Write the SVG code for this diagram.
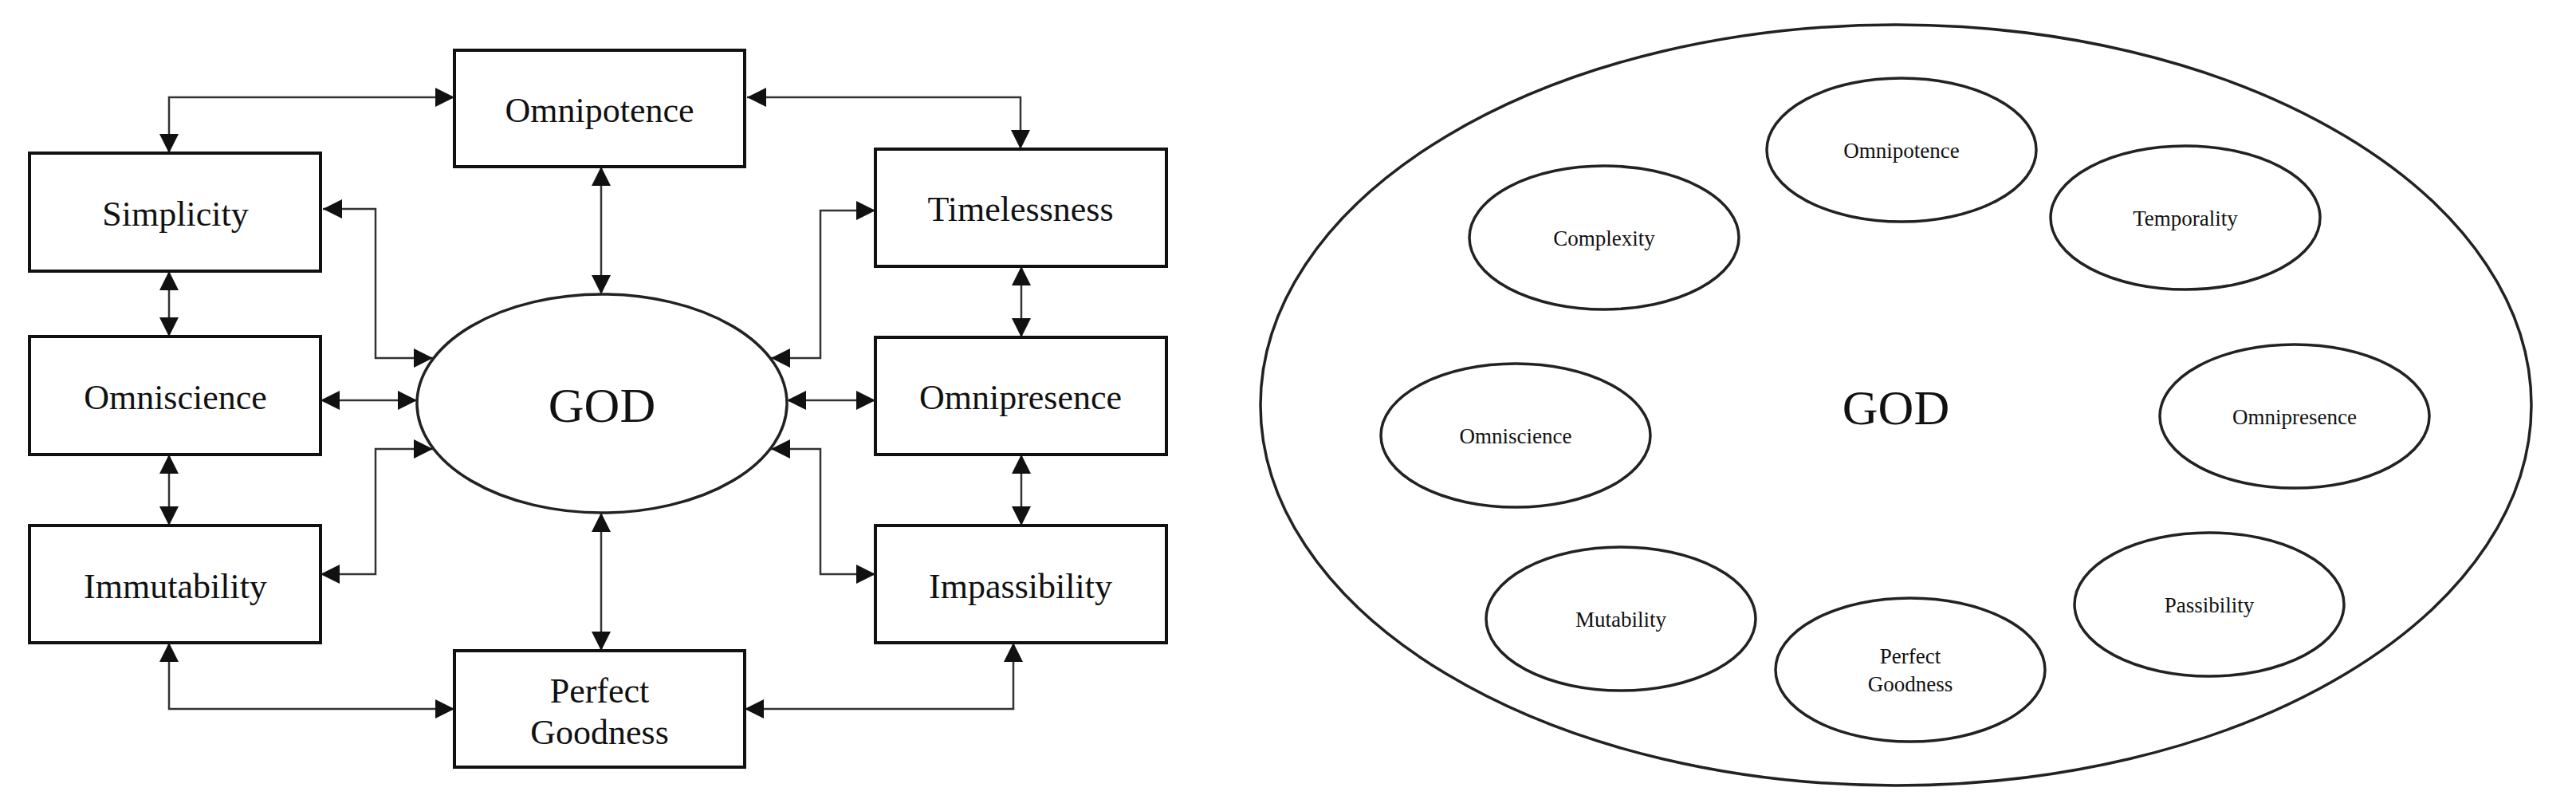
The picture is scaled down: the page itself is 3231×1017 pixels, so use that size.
<svg xmlns="http://www.w3.org/2000/svg" width="3231" height="1017" viewBox="0 0 3231 1017">
<style>
.box{fill:#fff;stroke:#111;stroke-width:4}
.el{fill:#fff;stroke:#222;stroke-width:3.5}
.t{font-family:"Liberation Serif",serif;font-size:44px;fill:#111;text-anchor:middle;dominant-baseline:central}
.s{font-family:"Liberation Serif",serif;font-size:27px;fill:#111;text-anchor:middle;dominant-baseline:central}
.g{font-family:"Liberation Serif",serif;font-size:62px;fill:#111;text-anchor:middle;dominant-baseline:central}
.c{fill:none;stroke:#333;stroke-width:2.5;marker-start:url(#a);marker-end:url(#a)}
</style>
<defs>
<marker id="a" viewBox="0 0 24 24" refX="24" refY="12" markerWidth="24" markerHeight="24" markerUnits="userSpaceOnUse" orient="auto-start-reverse">
<path d="M0,0 L24,12 L0,24 z" fill="#111"/>
</marker>
</defs>
<rect width="3231" height="1017" fill="#fff"/>
<g id="connectors">
<path class="c" d="M212,192 V122 H570"/>
<path class="c" d="M937,122 H1280 V187"/>
<path class="c" d="M754,209 V369"/>
<path class="c" d="M405,262 H471 V449 H543"/>
<path class="c" d="M402,502 H523"/>
<path class="c" d="M402,720 H471 V563 H543"/>
<path class="c" d="M1098,264 H1029 V449 H967"/>
<path class="c" d="M987,502 H1098"/>
<path class="c" d="M1098,720 H1029 V563 H967"/>
<path class="c" d="M754,643 V816"/>
<path class="c" d="M212,806 V889 H570"/>
<path class="c" d="M934,889 H1271 V806"/>
<path class="c" d="M212,340 V422"/>
<path class="c" d="M212,570 V659"/>
<path class="c" d="M1281,334 V423"/>
<path class="c" d="M1281,570 V659"/>
</g>
<g id="god"><ellipse class="el" cx="755" cy="506" rx="232" ry="137"/><text class="g" x="755" y="508">GOD</text></g>
<g id="omnipotence"><rect class="box" x="570" y="63" width="364" height="146"/><text class="t" x="752" y="138">Omnipotence</text></g>
<g id="simplicity"><rect class="box" x="37" y="192" width="365" height="148"/><text class="t" x="220" y="268">Simplicity</text></g>
<g id="omniscience"><rect class="box" x="37" y="422" width="365" height="148"/><text class="t" x="220" y="498">Omniscience</text></g>
<g id="immutability"><rect class="box" x="37" y="659" width="365" height="147"/><text class="t" x="220" y="735">Immutability</text></g>
<g id="timelessness"><rect class="box" x="1098" y="187" width="365" height="147"/><text class="t" x="1280" y="262">Timelessness</text></g>
<g id="omnipresence"><rect class="box" x="1098" y="423" width="365" height="147"/><text class="t" x="1280" y="498">Omnipresence</text></g>
<g id="impassibility"><rect class="box" x="1098" y="659" width="365" height="147"/><text class="t" x="1280" y="735">Impassibility</text></g>
<g id="perfect-goodness"><rect class="box" x="570" y="816" width="364" height="146"/><text class="t" x="752" y="866">Perfect</text><text class="t" x="752" y="918">Goodness</text></g>
<g id="god2"><ellipse class="el" cx="2378" cy="508" rx="797" ry="477"/><text class="g" x="2378" y="511">GOD</text></g>
<g id="omnipotence2"><ellipse class="el" cx="2385" cy="188" rx="169" ry="90"/><text class="s" x="2385" y="189">Omnipotence</text></g>
<g id="temporality"><ellipse class="el" cx="2741" cy="273" rx="169" ry="90"/><text class="s" x="2741" y="274">Temporality</text></g>
<g id="complexity"><ellipse class="el" cx="2012" cy="298" rx="169" ry="90"/><text class="s" x="2012" y="299">Complexity</text></g>
<g id="omniscience2"><ellipse class="el" cx="1901" cy="546" rx="169" ry="90"/><text class="s" x="1901" y="547">Omniscience</text></g>
<g id="omnipresence2"><ellipse class="el" cx="2878" cy="522" rx="169" ry="90"/><text class="s" x="2878" y="523">Omnipresence</text></g>
<g id="mutability"><ellipse class="el" cx="2033" cy="776" rx="169" ry="90"/><text class="s" x="2033" y="777">Mutability</text></g>
<g id="perfect-goodness2"><ellipse class="el" cx="2396" cy="840" rx="169" ry="90"/><text class="s" x="2396" y="823">Perfect</text><text class="s" x="2396" y="858">Goodness</text></g>
<g id="passibility"><ellipse class="el" cx="2771" cy="758" rx="169" ry="90"/><text class="s" x="2771" y="759">Passibility</text></g>
</svg>
